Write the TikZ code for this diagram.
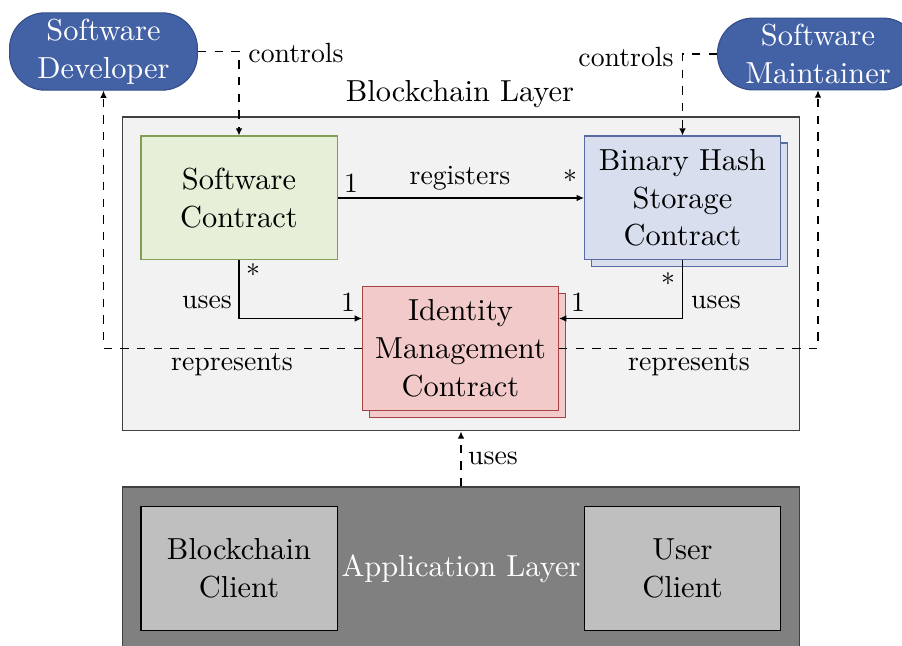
\documentclass[tikz,border=0pt,11pt]{standalone}
\usetikzlibrary{arrows.meta,shadows}
\usepackage{xcolor}
\definecolor{actorblue}{RGB}{67,97,165}
\definecolor{actorline}{RGB}{52,78,138}
\definecolor{greenfill}{RGB}{230,240,216}
\definecolor{greenline}{RGB}{130,158,82}
\definecolor{bluefill}{RGB}{216,222,238}
\definecolor{blueline}{RGB}{88,108,162}
\definecolor{redfill}{RGB}{242,202,202}
\definecolor{redline}{RGB}{165,68,68}
\definecolor{chainfill}{RGB}{242,242,242}
\definecolor{appfill}{RGB}{128,128,128}
\definecolor{clientfill}{RGB}{191,191,191}
\tikzset{
    actor/.style={
        rectangle,
        rounded corners=12.8pt,
        fill=actorblue,
        draw=actorline,
        text=white,
        align=center,
        inner xsep=10pt,
        inner ysep=2.2pt
    },
    contract/.style={
        rectangle,
        align=center,
        minimum width=70.6pt,
        minimum height=44.6pt,
        inner sep=2pt,
        draw
    },
    stacked/.style={copy shadow={shadow xshift=2.5pt,shadow yshift=-2.5pt}},
    layer/.style={rectangle,minimum width=244pt,draw=black!75},
    lbl/.style={font=\small,inner sep=1pt},
    assoc/.style={-{Latex[length=2.6pt,width=2.4pt]}},
    dep/.style={dashed,-{Latex[length=2.6pt,width=2.4pt]}}
}

\begin{document}
\begin{tikzpicture}[x=0.36pt,y=-0.36pt]
        \useasboundingbox (0,0) rectangle (902,646);
        % draw both layers
        \node[layer,fill=chainfill,minimum height=113pt] (chain) at (461,274) {};
        \node (chaintitle) at (460,94) {Blockchain Layer};
        \node[layer,fill=appfill,text=white,minimum height=58.7pt] (app)
            at (461,568.5) {Application Layer};
        % draw contracts
        \node[contract,fill=greenfill,draw=greenline] (soft) at (239,198)
            {Software\\Contract};
        \node[contract,stacked,fill=bluefill,draw=blueline] (bin) at (682.5,198)
            {Binary Hash\\Storage\\Contract};
        \node[contract,stacked,fill=redfill,draw=redline] (ident) at (460.5,348.5)
            {Identity\\Management\\Contract};
        % draw clients
        \node[contract,fill=clientfill] (bcc) at (239,568.5) {Blockchain\\Client};
        \node[contract,fill=clientfill] (ucc) at (682.5,568.5) {User\\Client};
        % draw actors
        \node[actor] (dev) at (103.5,51.5) {Software\\Developer};
        \node[actor] (maint) at (818,54) {Software\\Maintainer};
        % draw controls
        \draw[dep] (dev.east) -| (soft.north);
        \draw[dep] (maint.west) -| (bin.north);
        \node[lbl] (ctrldev) at (296,53) {controls};
        \node[lbl] (ctrlmaint) at (626,57) {controls};
        % draw represents
        \draw[dep] (ident.west) -| (dev.south);
        \draw[dep] (ident.east) -| (maint.south);
        \node[lbl] (repdev) at (232,365) {represents};
        \node[lbl] (repmaint) at (689,365) {represents};
        % draw associations
        \draw[assoc] (soft.east) -- (bin.west);
        \draw[assoc] (soft.south) |- ([yshift=10.8pt]ident.west);
        \draw[assoc] (bin.south) |- ([yshift=10.8pt]ident.east);
        \node[lbl] (reg) at (460,178) {registers};
        \node[lbl] (usesoft) at (207,302) {uses};
        \node[lbl] (usebin) at (716,302) {uses};
        \foreach \x/\y/\t/\n in {351/183/1/msoft,570/180/*/mbin,
            253/274/*/msoftid,348/302/1/midsoft,578/302/1/midbin,668/283/*/mbinid}
            \node[lbl] (\n) at (\x,\y) {\t};
        % draw application uses
        \draw[dep] (app.north) -- (chain.south);
        \node[lbl] (useapp) at (493,458) {uses};
    \end{tikzpicture}
\end{document}
